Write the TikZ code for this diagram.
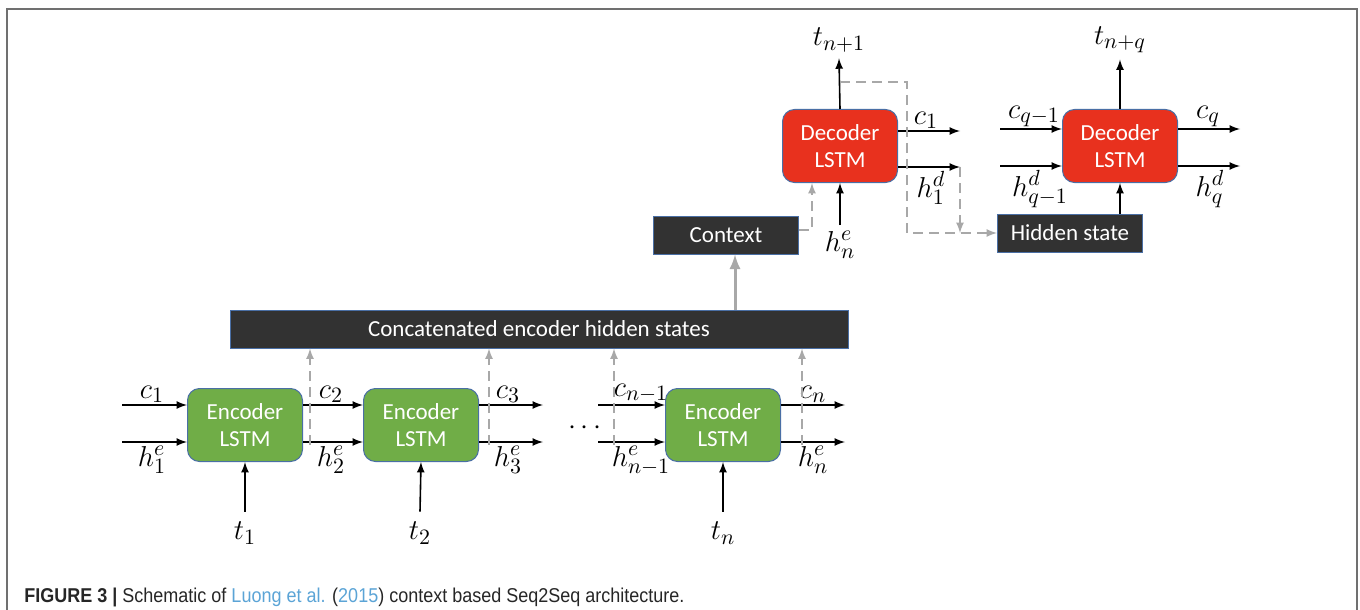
\documentclass[tikz,border=0pt]{standalone}
\usepackage{fontspec}
\setmainfont{Carlito}
\newfontfamily\capfont[FakeStretch=0.9]{Liberation Sans}
\usetikzlibrary{calc}

\definecolor{encgreen}{HTML}{70AD47}
\definecolor{decred}{HTML}{E8311E}
\definecolor{edgeblue}{HTML}{4A6FA5}
\definecolor{boxdark}{HTML}{323232}
\definecolor{dashgray}{HTML}{A8A8A8}
\definecolor{framegray}{HTML}{707070}
\definecolor{linkblue}{HTML}{5BA4D6}
\definecolor{captext}{HTML}{262626}

\tikzset{
  lstm/.style={draw=edgeblue, line width=0.5pt, rounded corners=6pt, minimum width=57.5pt, minimum height=36.5pt,
    inner sep=0pt, text=white, align=center, font=\fontsize{11.5}{13.5}\selectfont},
  enc/.style={lstm, fill=encgreen},
  dec/.style={lstm, fill=decred},
  bar/.style={draw=edgeblue, line width=0.5pt, fill=boxdark, text=white, minimum height=19pt, inner sep=0pt,
    font=\fontsize{11.5}{13.5}\selectfont},
  lbl/.style={inner sep=0pt, font=\fontsize{15}{15}\selectfont},
  toplbl/.style={lbl, anchor=south},
  botlbl/.style={lbl, anchor=north},
  arr/.style={->, >=latex, line width=0.8pt},
  dsh/.style={->, >=latex, dashgray, line width=0.8pt, dash pattern=on 5pt off 3pt},
}

\begin{document}
\begin{tikzpicture}[x=0.5pt,y=-0.5pt]
\useasboundingbox (0,0) rectangle (1360,610);
\draw[framegray, line width=1pt] (7,610) -- (7,9) -- (1357,9) -- (1357,610);

\node[enc] (e1) at (245,425) {Encoder\\LSTM};
\node[enc] (e2) at (421,425) {Encoder\\LSTM};
\node[enc] (e3) at (723,425) {Encoder\\LSTM};
\node[bar, minimum width=309pt] (concat) at (539,329) {Concatenated encoder hidden states};
\node[bar, minimum width=72.5pt] (ctx) at (726,235) {Context};
\node[dec] (d1) at (840,146) {Decoder\\LSTM};
\node[dec] (d2) at (1120,146) {Decoder\\LSTM};
\node[bar, minimum width=72.5pt] (hid) at (1070,233) {Hidden state};

\coordinate (ca) at (122,405); \coordinate (ha) at (122,442);
\coordinate (cb) at (543,405); \coordinate (hb) at (543,442);
\coordinate (cc) at (598,405); \coordinate (hc) at (598,442);
\coordinate (cd) at (845,405); \coordinate (hd) at (845,442);

\draw[arr] (ca) -- (ca -| e1.west);
\draw[arr] (ha) -- (ha -| e1.west);
\draw[arr] (ca -| e1.east) -- (ca -| e2.west);
\draw[arr] (ha -| e1.east) -- (ha -| e2.west);
\draw[arr] (cb -| e2.east) -- (cb);
\draw[arr] (hb -| e2.east) -- (hb);
\draw[arr] (cc) -- (cc -| e3.west);
\draw[arr] (hc) -- (hc -| e3.west);
\draw[arr] (cd -| e3.east) -- (cd);
\draw[arr] (hd -| e3.east) -- (hd);
\node[lbl] (dots) at (585,428) {$\cdots$};

\node[toplbl] (lc1) at (152,403) {$c_1$};
\node[botlbl] (lh1) at (152,446) {$h^e_1$};
\node[toplbl] (lc2) at (331,403) {$c_2$};
\node[botlbl] (lh2) at (331,446) {$h^e_2$};
\node[toplbl] (lc3) at (508,403) {$c_3$};
\node[botlbl] (lh3) at (508,446) {$h^e_3$};
\node[toplbl] (lcn1) at (641,403) {$c_{n-1}$};
\node[botlbl] (lhn1) at (641,446) {$h^e_{n-1}$};
\node[toplbl] (lcn) at (813,403) {$c_n$};
\node[botlbl] (lhn) at (813,446) {$h^e_n$};

\node[lbl] (t1) at (245,533) {$t_1$};
\node[lbl] (t2) at (420,533) {$t_2$};
\node[lbl] (tn) at (723,533) {$t_n$};
\draw[arr] ([yshift=5pt]t1.north) -- (e1.south);
\draw[arr] ([yshift=5pt]t2.north) -- (e2.south);
\draw[arr] ([yshift=5pt]tn.north) -- (e3.south);

\coordinate (s1) at (310,445); \coordinate (s2) at (489,445);
\coordinate (s3) at (614,445); \coordinate (s4) at (802,445);
\draw[dsh] (s1) -- (s1 |- concat.south);
\draw[dsh] (s2) -- (s2 |- concat.south);
\draw[dsh] (s3) -- (s3 |- concat.south);
\draw[dsh] (s4) -- (s4 |- concat.south);

\coordinate (up) at (735,300);
\draw[->, >=latex, dashgray, line width=1.5pt] (up |- concat.north) -- (up |- ctx.south);
\coordinate (k) at (812,230);
\draw[dsh] (ctx.east |- k) -- (k) -- (k |- d1.south);

\node[lbl] (tn1) at (839,40) {$t_{n+1}$};
\node[lbl] (hne) at (840,245) {$h^e_n$};
\draw[arr] (d1.north) -- ([yshift=-3pt]tn1.south);
\draw[arr] ([yshift=3pt]hne.north) -- (d1.south);
\coordinate (o1) at (960,131); \coordinate (o2) at (960,167);
\draw[arr] (o1 -| d1.east) -- (o1);
\draw[arr] (o2 -| d1.east) -- (o2);
\node[toplbl] (lco) at (926,129) {$c_1$};
\node[botlbl] (lho) at (931,171) {$h^d_1$};

\coordinate (fa) at (840,82); \coordinate (fb) at (907,82);
\draw[dsh] (fa) -- (fb) -- (fb |- hid.west) -- (hid.west);
\draw[dsh] (o2) -- (o2 |- hid.west);

\node[lbl] (tnq) at (1120,40) {$t_{n+q}$};
\draw[arr] (d2.north) -- ([yshift=-3pt]tnq.south);
\draw[arr] (hid.north -| d2.south) -- (d2.south);
\coordinate (i1) at (1000,129); \coordinate (i2) at (1000,166);
\coordinate (o3) at (1240,129); \coordinate (o4) at (1240,166);
\draw[arr] (i1) -- (i1 -| d2.west);
\draw[arr] (i2) -- (i2 -| d2.west);
\draw[arr] (o3 -| d2.east) -- (o3);
\draw[arr] (o4 -| d2.east) -- (o4);
\node[toplbl] (lcq1) at (1034,127) {$c_{q-1}$};
\node[botlbl] (lhq1) at (1040,170) {$h^d_{q-1}$};
\node[toplbl] (lcq) at (1208,127) {$c_q$};
\node[botlbl] (lhq) at (1210,170) {$h^d_q$};

\node[anchor=west, inner sep=0pt, text=captext, font=\capfont\fontsize{10}{12}\selectfont] (cap) at (24,597)
  {\textbf{FIGURE 3 |} Schematic of \textcolor{linkblue}{Luong et al.} (\textcolor{linkblue}{2015}) context based Seq2Seq architecture.};
\end{tikzpicture}
\end{document}
